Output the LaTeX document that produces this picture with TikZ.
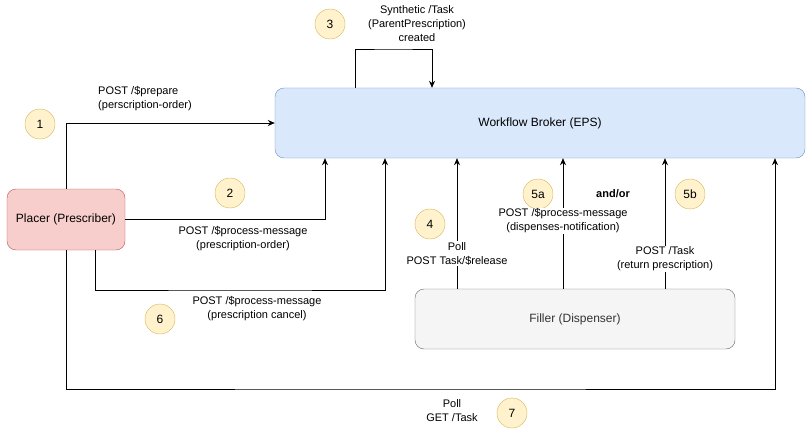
\documentclass[tikz,border=0pt]{standalone}
\usepackage{fontspec}
\setmainfont{Liberation Sans}
\usetikzlibrary{arrows.meta}
\definecolor{brokerfill}{HTML}{DAE8FC}
\definecolor{brokerline}{HTML}{6C8EBF}
\definecolor{placerfill}{HTML}{F8CECC}
\definecolor{placerline}{HTML}{B85450}
\definecolor{fillerfill}{HTML}{F5F5F5}
\definecolor{fillerline}{HTML}{666666}
\definecolor{fillertext}{HTML}{333333}
\definecolor{badgefill}{HTML}{FFF2CC}
\definecolor{badgeline}{HTML}{D6B656}
\tikzset{
  party/.style={draw, rounded corners=9pt, font=\fontsize{12}{14}\selectfont},
  badge/.style={draw=badgeline, fill=badgefill, circle, minimum size=30pt,
    inner sep=0pt, font=\fontsize{12}{14}\selectfont},
  lbl/.style={align=center, inner sep=1pt, font=\fontsize{11}{14}\selectfont},
  flow/.style={-{Stealth[length=7pt,width=6pt]}, line width=0.8pt}
}
\begin{document}
\begin{tikzpicture}[x=1pt,y=-1pt]
\useasboundingbox (0,0) rectangle (812,436);

% Parties
\node[party,
    fill=brokerfill, draw=brokerline,
    minimum width=530pt, minimum height=70pt
] (broker) at (540,123) {Workflow Broker (EPS)};

\node[party,
    fill=placerfill, draw=placerline,
    minimum width=118pt, minimum height=61pt
] (placer) at (66,219.5) {Placer (Prescriber)};

\node[party,
    fill=fillerfill, draw=fillerline, text=fillertext,
    minimum width=320pt, minimum height=60pt
] (filler) at (575,319) {Filler (Dispenser)};

% Step numbers
\node[badge] (num1) at (40,124) {1};
\node[badge] (num2) at (230,193) {2};
\node[badge] (num3) at (330,24) {3};
\node[badge] (num4) at (430,224) {4};
\node[badge] (num5a) at (538,194) {5a};
\node[badge] (num5b) at (690,194) {5b};
\node[badge] (num6) at (160,319) {6};
\node[badge] (num7) at (512,413) {7};

% Bend points
\coordinate (bend3) at (393,49);
\coordinate (bend6) at (240,290);
\coordinate (bend7) at (400,389);

% Arrows from the placer
\draw[flow] (placer.north) |- (broker.west);
\draw[flow] (placer.east) -| ([xshift=-215pt]broker.south);
\draw[flow] ([xshift=29pt]placer.south) |- (bend6) -| ([xshift=-155pt]broker.south);
\draw[flow] (placer.south) |- (bend7) -| ([xshift=235pt]broker.south);

% Broker loop
\draw[flow] ([xshift=-185pt]broker.north) |- (bend3) -| ([xshift=-108pt]broker.north);

% Arrows from the filler
\draw[flow] ([xshift=-118pt]filler.north) -- ([xshift=-118pt]filler.north |- broker.south)
    node[lbl, pos=0.27, fill=white] (lbl4) {Poll\\POST Task/\$release};
\draw[flow] ([xshift=-12pt]filler.north) -- ([xshift=-12pt]filler.north |- broker.south)
    node[lbl, pos=0.52, fill=white] (lbl5a) {POST /\$process-message\\(dispenses-notification)};
\draw[flow] ([xshift=90pt]filler.north) -- ([xshift=90pt]filler.north |- broker.south)
    node[lbl, pos=0.23, fill=white] (lbl5b) {POST /Task\\(return prescription)};

% Labels
\node[lbl, align=left] (lbl1) at (145,99) {POST /\$prepare\\(perscription-order)};
\node[lbl] (lbl2) at (243,239) {POST /\$process-message\\(prescription-order)};
\node[lbl] (lbl3) at (417,24) {Synthetic /Task\\(ParentPrescription)\\created};
\node[lbl] (lbl6) at (257,309) {POST /\$process-message\\(prescription cancel)};
\node[lbl] (lbl7) at (452,411) {Poll\\GET /Task};
\node[lbl, font=\fontsize{11}{14}\selectfont\bfseries] (andor) at (613,194) {and/or};

\end{tikzpicture}
\end{document}
